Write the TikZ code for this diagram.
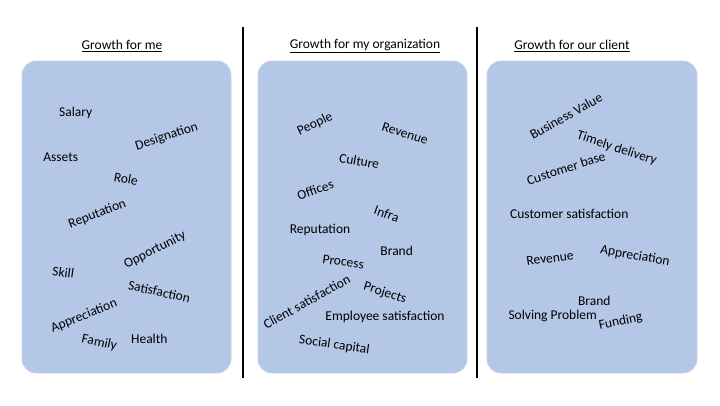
\documentclass[tikz,border=0pt]{standalone}
\usepackage{fontspec}
\setmainfont{Carlito}
\definecolor{boxblue}{HTML}{B4C7E7}
\definecolor{boxedge}{HTML}{C5D3EC}
\tikzset{
  box/.style={fill=boxblue, draw=boxedge, line width=0.8pt, rounded corners=14pt},
  word/.style={inner sep=0pt, font=\fontsize{13.5}{16}\selectfont},
  header/.style={inner sep=0pt, font=\fontsize{13.5}{16}\selectfont},
  divider/.style={line width=2pt}
}

\begin{document}
\begin{tikzpicture}[x=1pt, y=-1pt]
      \useasboundingbox (0, 0) rectangle (720, 405);
      \draw[box] (22, 61) rectangle (231, 373);
      \draw[box] (258, 61) rectangle (467, 373);
      \draw[box] (487, 61) rectangle (697, 373);
      \coordinate (d1t) at (243, 27);
      \coordinate (d1b) at (243, 378);
      \coordinate (d2t) at (477, 27);
      \coordinate (d2b) at (477, 378);
      \draw[divider] (d1t) -- (d1b);
      \draw[divider] (d2t) -- (d2b);
      \node[header] (h1) at (122, 46) {\underline{Growth for me}};
      \node[header] (h2) at (365, 46) {\underline{Growth for my organization}};
      \node[header] (h3) at (572, 46) {\underline{Growth for our client}};
        \node[word] (salary) at (75.7, 112.7) {Salary};
        \node[word, rotate=18] (designation) at (166.7, 136.7) {Designation};
        \node[word] (assets) at (60.7, 157.7) {Assets};
        \node[word, rotate=-10] (role) at (126, 179) {Role};
        \node[word, rotate=21] (reputation1) at (97.3, 214) {Reputation};
        \node[word, rotate=27] (opportunity) at (155, 250) {Opportunity};
        \node[word, rotate=-8] (skill) at (63.3, 272.3) {Skill};
        \node[word, rotate=-12] (satisfaction) at (159.3, 291.7) {Satisfaction};
        \node[word, rotate=22] (appreciation1) at (84, 316) {Appreciation};
        \node[word, rotate=-12] (family) at (99.3, 342.7) {Family};
        \node[word] (health) at (149.3, 339.3) {Health};
        \node[word, rotate=25] (people) at (315, 124.3) {People};
        \node[word, rotate=-18] (revenue2) at (405, 133.3) {Revenue};
        \node[word, rotate=-10] (culture) at (359.3, 161) {Culture};
        \node[word, rotate=20] (offices) at (315.3, 190) {Offices};
        \node[word, rotate=-20] (infra) at (386.7, 214) {Infra};
        \node[word] (reputation2) at (320, 230) {Reputation};
        \node[word] (brand2) at (396.7, 250.7) {Brand};
        \node[word, rotate=-8] (process) at (343.3, 261.7) {Process};
        \node[word, rotate=29] (clientsat) at (306.7, 301.7) {Client satisfaction};
        \node[word, rotate=-18] (projects) at (385, 293.3) {Projects};
        \node[word] (employeesat) at (385, 317.3) {Employee satisfaction};
        \node[word, rotate=-8] (social) at (334.3, 345) {Social capital};
        \node[word, rotate=29] (business) at (566, 116) {Business Value};
        \node[word, rotate=-18] (timely) at (616.7, 148.3) {Timely delivery};
        \node[word, rotate=18] (custbase) at (566, 168.3) {Customer base};
        \node[word] (custsat) at (569.3, 214.3) {Customer satisfaction};
        \node[word, rotate=8] (revenue3) at (550, 258.3) {Revenue};
        \node[word, rotate=-10] (appreciation3) at (635, 256) {Appreciation};
        \node[word] (brand3) at (594.3, 300.7) {Brand};
        \node[word] (solving) at (552.7, 315.7) {Solving Problem};
        \node[word, rotate=12] (funding) at (620.7, 321.7) {Funding};
    \end{tikzpicture}
\end{document}
